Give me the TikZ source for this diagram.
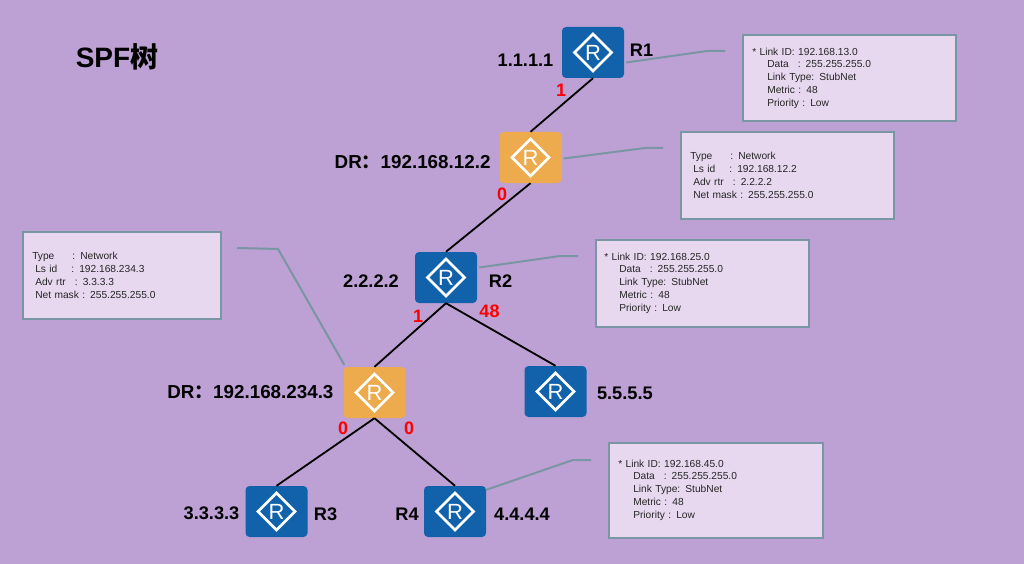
\documentclass[tikz,border=0pt]{standalone}
\usepackage{fontspec}
\setmainfont{Liberation Sans}
\newfontfamily\cjk{Noto Sans CJK SC}
\usetikzlibrary{calc}
\definecolor{bgpurple}{HTML}{BDA0D4}
\definecolor{routerblue}{HTML}{1262AB}
\definecolor{drorange}{HTML}{EDAB4E}
\definecolor{infofill}{HTML}{E7D8F0}
\definecolor{infoline}{HTML}{7A95A4}
\newcommand{\dr}{DR{\cjk ：}}

\begin{document}
\begin{tikzpicture}[x=1pt, y=-1pt,
  routerbox/.style={rounded corners=4pt, minimum width=62pt, minimum height=51pt, inner sep=0pt, text=white, font=\fontsize{22}{22}\selectfont,
    path picture={\draw[white, line width=2.6pt, sharp corners] ($(path picture bounding box.center)+(-18.5,0)$) -- ++(18.5,-18.5) -- ++(18.5,18.5) -- ++(-18.5,18.5) -- cycle;}},
  rtr/.style={routerbox, fill=routerblue},
  drr/.style={routerbox, fill=drorange},
  link/.style={line width=1.8pt, black},
  callout/.style={line width=2pt, infoline},
  infobox/.style={draw=infoline, line width=2pt, outer sep=0pt, fill=infofill, anchor=north west, align=left, inner sep=0pt, font=\fontsize{10.2}{12.9}\selectfont, text=black!85},
  tag/.style={font=\fontsize{18.2}{18}\selectfont\bfseries, text=black},
  drtag/.style={font=\fontsize{18.8}{18}\selectfont\bfseries, text=black, anchor=east},
  cost/.style={font=\fontsize{18}{18}\selectfont\bfseries, text=red}]
  \fill[bgpurple] (0,0) rectangle (1024,564);
  \useasboundingbox (0,0) rectangle (1024,564);
  \node[font=\fontsize{28}{28}\selectfont\bfseries, text=black] (title) at (117,57) {SPF{\cjk 树}};

  % routers
  \node[rtr] (r1) at (593,52.5) {R};
  \node[drr] (dr12) at (530.5,157.5) {R};
  \node[rtr] (r2) at (446,277.5) {R};
  \node[rtr] (r5) at (555.5,391.5) {R};
  \node[drr] (dr234) at (374.5,392.5) {R};
  \node[rtr] (r3) at (276.5,511.5) {R};
  \node[rtr] (r4) at (455,511.5) {R};

  % tree
  \draw[link] (r1.south) -- (dr12.north);
  \draw[link] (dr12.south) -- (r2.north);
  \draw[link] (r2.south) -- (dr234.north);
  \draw[link] (r2.south) -- (r5.north);
  \draw[link] (dr234.south) -- (r3.north);
  \draw[link] (dr234.south) -- (r4.north);

  % labels
  \node[tag] (id1) at (525.5,60) {1.1.1.1};
  \node[tag] (name1) at (641.5,50) {R1};
  \node[drtag] (id12) at (494,162) {\dr192.168.12.2};
  \node[tag] (id2) at (371,281) {2.2.2.2};
  \node[tag] (name2) at (500.5,281) {R2};
  \node[tag, anchor=west] (id5) at (593.5,393) {5.5.5.5};
  \node[drtag] (id234) at (337,392) {\dr192.168.234.3};
  \node[tag] (id3) at (211.5,513) {3.3.3.3};
  \node[tag] (name3) at (325.5,514) {R3};
  \node[tag] (name4) at (407,514) {R4};
  \node[tag] (id4) at (522,514) {4.4.4.4};

  % costs
  \node[cost] (c1) at (561,90) {1};
  \node[cost] (c12) at (502,194) {0};
  \node[cost] (c2) at (418,316) {1};
  \node[cost] (c48) at (489.5,311) {48};
  \node[cost] (c3) at (343,428) {0};
  \node[cost] (c4) at (409,428) {0};

  % lsa boxes
  \node[infobox, minimum width=212.5pt, minimum height=86.5pt, text width=194pt] (lsa1) at (743,35) {* Link ID: 192.168.13.0\\
    \hspace*{15pt}Data\hspace{9pt}: 255.255.255.0\\
    \hspace*{15pt}Link Type: StubNet\\
    \hspace*{15pt}Metric : 48\\
    \hspace*{15pt}Priority : Low};
  \node[infobox, minimum width=212.5pt, minimum height=86.5pt, text width=194pt] (lsa2) at (681,132) {Type\hspace{18pt}: Network\\
    \hspace*{3pt}Ls id\hspace{14pt}: 192.168.12.2\\
    \hspace*{3pt}Adv rtr\hspace{9pt}: 2.2.2.2\\
    \hspace*{3pt}Net mask : 255.255.255.0};
  \node[infobox, minimum width=212.5pt, minimum height=86.5pt, text width=196pt] (lsa3) at (596,240) {* Link ID: 192.168.25.0\\
    \hspace*{15pt}Data\hspace{9pt}: 255.255.255.0\\
    \hspace*{15pt}Link Type: StubNet\\
    \hspace*{15pt}Metric : 48\\
    \hspace*{15pt}Priority : Low};
  \node[infobox, minimum width=197.5pt, minimum height=86.5pt, text width=179pt] (lsa4) at (23,232) {Type\hspace{18pt}: Network\\
    \hspace*{3pt}Ls id\hspace{14pt}: 192.168.234.3\\
    \hspace*{3pt}Adv rtr\hspace{9pt}: 3.3.3.3\\
    \hspace*{3pt}Net mask : 255.255.255.0};
  \node[infobox, minimum width=213.5pt, minimum height=94.5pt, text width=195pt] (lsa5) at (609,443) {* Link ID: 192.168.45.0\\
    \hspace*{15pt}Data\hspace{9pt}: 255.255.255.0\\
    \hspace*{15pt}Link Type: StubNet\\
    \hspace*{15pt}Metric : 48\\
    \hspace*{15pt}Priority : Low};

  % callouts
  \coordinate (end1) at (725,51);
  \coordinate (end2) at (663,148);
  \coordinate (end3) at (578,256);
  \coordinate (end4) at (237,248);
  \coordinate (end5) at (591,460);
  \draw[callout] ($(r1.east)+(2,10)$) -- ($(end1)+(-18,0)$) -- (end1);
  \draw[callout] ($(dr12.east)+(2,1)$) -- ($(end2)+(-18,0)$) -- (end2);
  \draw[callout] ($(r2.east)+(2,-10)$) -- ($(end3)+(-18,0)$) -- (end3);
  \draw[callout] ($(dr234.north west)+(1,-2)$) -- ($(end4)+(41,1)$) -- (end4);
  \draw[callout] ($(r4.north east)+(0,4)$) -- ($(end5)+(-18,0)$) -- (end5);
\end{tikzpicture}
\end{document}
